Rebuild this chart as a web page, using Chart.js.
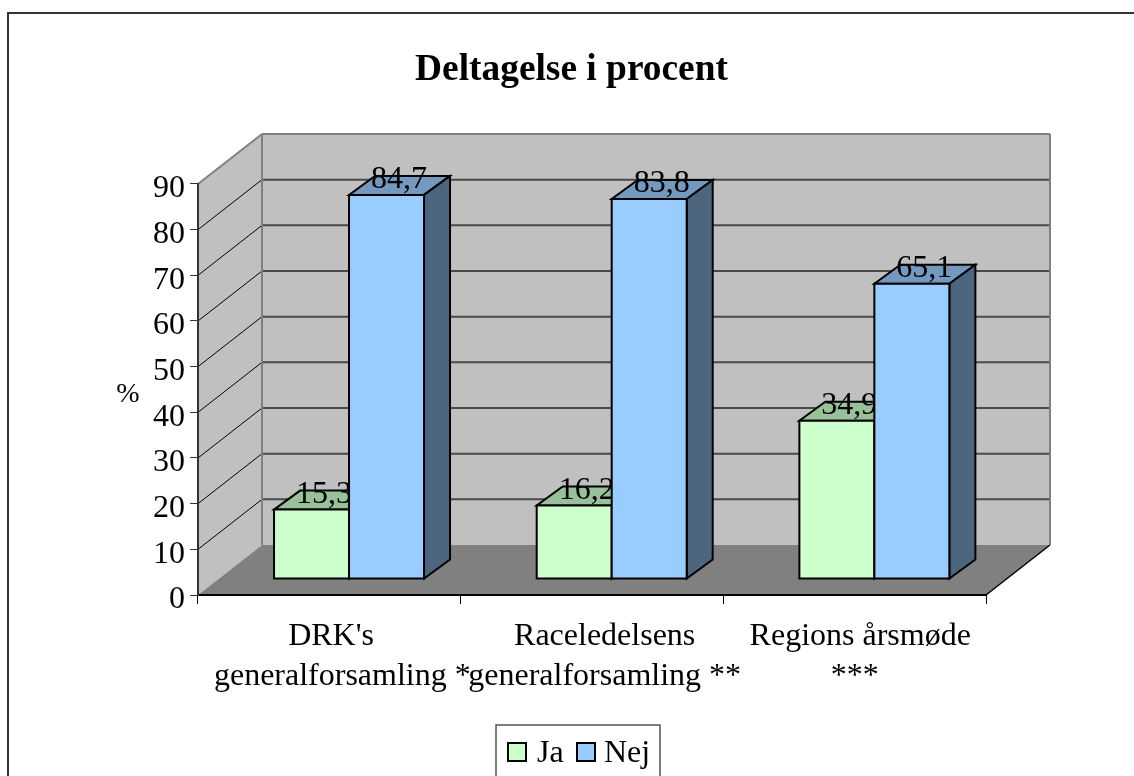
<!DOCTYPE html>
<html>
<head>
<meta charset="utf-8">
<title>Deltagelse i procent</title>
<style>
  html, body { margin: 0; padding: 0; background: #fff; overflow: hidden; }
  canvas { display: block; }
</style>
<script src="https://cdn.jsdelivr.net/npm/chart.js@4"></script>
</head>
<body>
<canvas id="chart" width="1134" height="776"></canvas>
<script>
const categories = [
  ["DRK's", "generalforsamling *"],
  ["Raceledelsens", "generalforsamling **"],
  ["Regions årsmøde", "***"],
];
const jaValues = [15.3, 16.2, 34.9];
const nejValues = [84.7, 83.8, 65.1];

// depth of the fake 3D box, in pixels
const wallDx = 64;
const wallDy = -50;
const barShiftX = 19.7;
const barShiftY = -16;
const barDepthX = 26;
const barDepthY = -19;
const barSquash = 0.993;

// the original centres its label lines unevenly, one pair per category
const labelNudge = [[1.7, 13], [12.7, 12.7], [5.6, 0]];

const serif = "'Liberation Serif', 'Times New Roman', serif";
Chart.defaults.font.family = serif;
Chart.defaults.color = "#000";

function poly(ctx, pts, fill, stroke, width) {
  ctx.beginPath();
  pts.forEach((p, i) => (i ? ctx.lineTo(p[0], p[1]) : ctx.moveTo(p[0], p[1])));
  ctx.closePath();
  if (fill) {
    ctx.fillStyle = fill;
    ctx.fill();
  }
  if (stroke) {
    ctx.strokeStyle = stroke;
    ctx.lineWidth = width;
    ctx.lineJoin = "miter";
    ctx.stroke();
  }
}

function line(ctx, x1, y1, x2, y2, color, width) {
  ctx.beginPath();
  ctx.moveTo(x1, y1);
  ctx.lineTo(x2, y2);
  ctx.strokeStyle = color;
  ctx.lineWidth = width;
  ctx.stroke();
}

const box3d = {
  id: "box3d",
  afterLayout(chart) {
    // title is centred on the frame, not on the plot
    const t = chart.titleBlock;
    t.left = 0;
    t.right = 1143;
    t.top = 48;
  },
  beforeDraw(chart) {
    const { ctx, chartArea: a, scales } = chart;
    const y = scales.y;
    ctx.save();
    // outer frame, runs off the picture to the right and bottom
    ctx.strokeStyle = "#333";
    ctx.lineWidth = 2;
    ctx.strokeRect(8, 13, 1300, 1000);

    // walls and floor
    poly(ctx, [[a.left, a.top], [a.left + wallDx, a.top + wallDy], [a.left + wallDx, a.bottom + wallDy], [a.left, a.bottom]], "#c0c0c0");
    poly(ctx, [[a.left + wallDx, a.top + wallDy], [a.right + wallDx, a.top + wallDy], [a.right + wallDx, a.bottom + wallDy], [a.left + wallDx, a.bottom + wallDy]], "#c0c0c0");
    poly(ctx, [[a.left, a.bottom], [a.right, a.bottom], [a.right + wallDx, a.bottom + wallDy], [a.left + wallDx, a.bottom + wallDy]], "#808080");

    // grid lines on both walls
    y.ticks.forEach((t) => {
      const py = y.getPixelForValue(t.value);
      if (t.value === 0 || t.value === 90) return;
      line(ctx, a.left, py, a.left + wallDx, py + wallDy, "#000", 1);
      line(ctx, a.left + wallDx, py + wallDy, a.right + wallDx, py + wallDy, "#4a4a4a", 2);
    });

    // wall edges
    line(ctx, a.left, a.top, a.left + wallDx, a.top + wallDy, "#808080", 2);
    line(ctx, a.left + wallDx, a.top + wallDy, a.right + wallDx, a.top + wallDy, "#808080", 2);
    line(ctx, a.left + wallDx, a.top + wallDy, a.left + wallDx, a.bottom + wallDy, "#808080", 2);
    line(ctx, a.right + wallDx, a.top + wallDy, a.right + wallDx, a.bottom + wallDy, "#808080", 2);
    line(ctx, a.right, a.bottom, a.right + wallDx, a.bottom + wallDy, "#000", 1.5);
    ctx.restore();
  },
  beforeDatasetsDraw(chart) {
    const { ctx } = chart;
    // Ja first, then Nej, so the Nej bars cover the end of the Ja labels
    chart.data.datasets.forEach((ds, i) => {
      const meta = chart.getDatasetMeta(i);
      const base = meta.data[0].base;
      const lift = (py) => base + barShiftY + (py - base) * barSquash;
      meta.data.forEach((bar) => {
        const x1 = bar.x - bar.width / 2 + barShiftX;
        const x2 = bar.x + bar.width / 2 + barShiftX;
        const top = lift(bar.y);
        const bottom = lift(base);
        poly(ctx, [[x1, top], [x2, top], [x2 + barDepthX, top + barDepthY], [x1 + barDepthX, top + barDepthY]], ds.topColor, "#000", 2);
        poly(ctx, [[x2, top], [x2 + barDepthX, top + barDepthY], [x2 + barDepthX, bottom + barDepthY], [x2, bottom]], ds.sideColor, "#000", 2);
        poly(ctx, [[x1, top], [x2, top], [x2, bottom], [x1, bottom]], ds.backgroundColor, "#000", 2);
      });

      ctx.save();
      ctx.fillStyle = "#000";
      ctx.font = "32px " + serif;
      ctx.textAlign = "center";
      ctx.textBaseline = "alphabetic";
      meta.data.forEach((bar, j) => {
        const text = String(ds.data[j]).replace(".", ",");
        ctx.fillText(text, bar.x + barShiftX + 12.5, lift(bar.y) - 7);
      });
      ctx.restore();
    });
    return false;
  },
  afterDraw(chart) {
    const { ctx, scales } = chart;
    ctx.save();
    ctx.fillStyle = "#000";
    ctx.textBaseline = "alphabetic";

    // axis unit, upright unlike a Chart.js axis title
    ctx.font = "28px " + serif;
    ctx.textAlign = "center";
    ctx.fillText("%", 128, 402);

    // category labels
    ctx.font = "32px " + serif;
    categories.forEach((lines, i) => {
      const cx = scales.x.getPixelForTick(i);
      lines.forEach((text, j) => {
        ctx.fillText(text, cx + labelNudge[i][j], 645 + j * 40);
      });
    });

    // legend box, swatch gap is tighter than the Chart.js legend allows
    ctx.strokeStyle = "#555";
    ctx.lineWidth = 1.5;
    ctx.strokeRect(496, 725, 164, 200);
    ctx.textAlign = "left";
    const swatchX = [508, 577];
    const textX = [537, 604];
    chart.data.datasets.forEach((ds, i) => {
      ctx.fillStyle = ds.backgroundColor;
      ctx.fillRect(swatchX[i], 743, 18, 18);
      ctx.strokeStyle = "#000";
      ctx.lineWidth = 2;
      ctx.strokeRect(swatchX[i], 743, 18, 18);
      ctx.fillStyle = "#000";
      ctx.fillText(ds.label, textX[i], 762);
    });
    ctx.restore();
  },
};

new Chart(document.getElementById("chart"), {
  type: "bar",
  data: {
    labels: categories,
    datasets: [
      {
        label: "Ja",
        data: jaValues,
        backgroundColor: "#ccffcc",
        topColor: "#99c199",
        sideColor: "#668066",
      },
      {
        label: "Nej",
        data: nejValues,
        backgroundColor: "#99ccff",
        topColor: "#7399bf",
        sideColor: "#4d6680",
      },
    ],
  },
  options: {
    responsive: false,
    animation: false,
    layout: { padding: { top: 139.1, right: 148, bottom: 0, left: 0 } },
    datasets: { bar: { barPercentage: 1, categoryPercentage: 0.571 } },
    scales: {
      x: {
        afterFit: (s) => { s.height = 181; },
        grid: { drawOnChartArea: false, tickLength: 9, color: "#000", offset: true },
        border: { color: "#000", width: 2 },
        ticks: { display: false, autoSkip: false, maxRotation: 0, minRotation: 0 },
      },
      y: {
        min: 0,
        max: 90,
        afterFit: (s) => { s.width = 198; },
        grid: { drawOnChartArea: false, tickLength: 8, color: "#333" },
        border: { color: "#333", width: 2 },
        ticks: { stepSize: 10, padding: 5, labelOffset: 5, color: "#000", font: { size: 32 } },
      },
    },
    plugins: {
      title: {
        display: true,
        text: "Deltagelse i procent",
        color: "#000",
        padding: 0,
        font: { size: 37.4, weight: "bold" },
      },
      legend: { display: false },
      tooltip: { enabled: false },
    },
  },
  plugins: [box3d],
});
</script>
</body>
</html>
